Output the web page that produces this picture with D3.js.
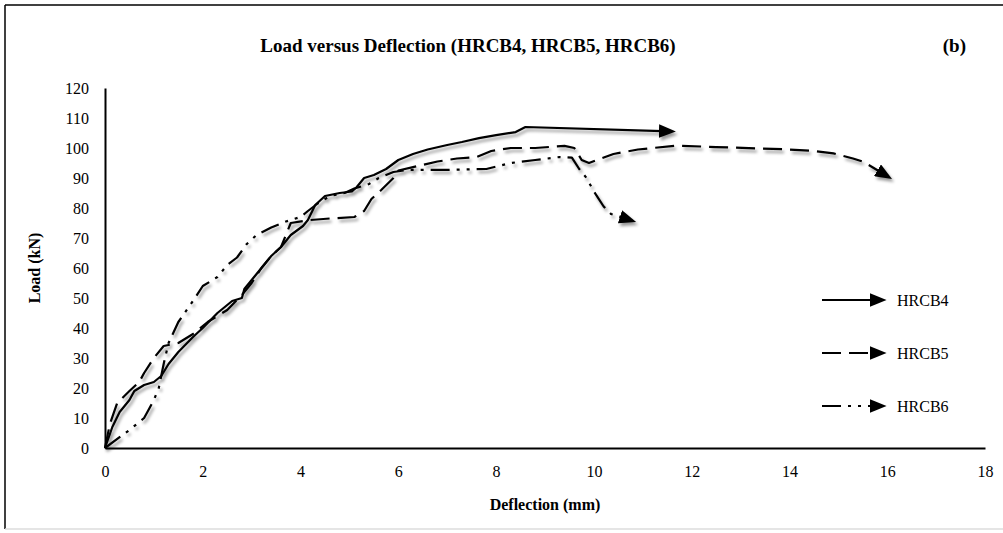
<!DOCTYPE html>
<html lang="en">
<head>
  <meta charset="UTF-8" />
  <title>Load versus Deflection</title>
  <script src="https://d3js.org/d3.v7.min.js"></script>
  <style>
    body { margin: 0; background: #fff; }
  </style>
</head>
<body>
  <svg id="chart" width="1003" height="533"></svg>

  <script>
    const FONT = "'Liberation Serif', 'Times New Roman', 'DejaVu Serif', serif";

    // Series names
    const seriesNames = ["HRCB4", "HRCB5", "HRCB6"];

    // Deflection (mm) / load (kN) pairs
    const hrcb4Deflection = [0, 0.15, 0.3, 0.5, 0.6, 0.8, 1.0, 1.15, 1.3, 1.5, 1.8, 2.0, 2.3, 2.6, 2.8, 2.85, 3.0, 3.2, 3.4, 3.6, 3.8, 4.05, 4.15, 4.3, 4.5, 4.8, 5.05, 5.15, 5.3, 5.5, 5.75, 6.0, 6.3, 6.6, 7.0, 7.3, 7.65, 8.0, 8.4, 8.6, 11.4];
    const hrcb4Load       = [0, 7, 12, 16, 19, 21, 22, 24, 28, 32, 37, 40, 45, 49, 50, 53, 56, 60, 64, 67, 71, 74, 76, 81, 84, 85, 85.5, 87, 90, 91, 93, 96, 98, 99.5, 101, 102, 103.3, 104.3, 105.3, 107, 105.6];

    const hrcb5Deflection = [0, 0.1, 0.25, 0.5, 0.7, 0.8, 1.0, 1.2, 1.5, 1.8, 2.1, 2.5, 2.8, 3.0, 3.2, 3.4, 3.6, 3.7, 3.8, 4.2, 4.6, 5.1, 5.3, 5.45, 5.65, 5.9, 6.0, 6.4, 6.8, 7.2, 7.6, 7.9, 8.3, 8.8, 9.4, 9.6, 9.75, 9.9, 10.4, 10.9, 11.7, 12.5, 13.9, 14.5, 14.9, 15.3, 15.5, 15.86];
    const hrcb5Load       = [0, 8, 15, 19, 22, 25, 30, 34, 35, 38, 42, 46, 51, 55, 60, 64, 67, 71, 75, 76, 76.5, 77, 79, 83, 86, 90, 92.5, 94, 95.5, 96.5, 97, 99, 100, 100, 100.7, 100, 96, 95, 98, 99.5, 100.8, 100.3, 99.6, 99, 98.2, 96.5, 95.5, 92];

    const hrcb6Deflection = [0, 0.5, 0.8, 1.0, 1.1, 1.2, 1.3, 1.5, 1.8, 2.0, 2.3, 2.5, 2.7, 2.9, 3.1, 3.4, 3.7, 4.0, 4.15, 4.35, 4.6, 4.9, 5.1, 5.4, 5.6, 5.9, 6.2, 7.0, 7.8, 8.3, 8.8, 9.3, 9.55, 9.7, 9.85, 10.0, 10.2, 10.35, 10.6];
    const hrcb6Load       = [0, 6, 10, 16, 20, 28, 35, 42, 49, 54, 57, 61, 63.5, 68, 71, 73.5, 75.5, 77, 79, 81.5, 84, 85, 86.5, 88, 90, 92, 92.7, 92.7, 93, 95, 96, 97, 96.8, 93, 90, 85.5, 80.5, 78, 76.7];

    const xTicks = [0, 2, 4, 6, 8, 10, 12, 14, 16, 18];
    const yTicks = [0, 10, 20, 30, 40, 50, 60, 70, 80, 90, 100, 110, 120];

    const series = [
      { name: seriesNames[0], x: hrcb4Deflection, y: hrcb4Load, dash: null },
      { name: seriesNames[1], x: hrcb5Deflection, y: hrcb5Load, dash: "19,8" },
      { name: seriesNames[2], x: hrcb6Deflection, y: hrcb6Load, dash: "19,7,3,7,3,7" }
    ];

    const svg = d3.select("#chart");

    // scales
    const xScale = d3.scaleLinear().domain([0, 18]).range([105, 985]);
    const yScale = d3.scaleLinear().domain([0, 120]).range([448, 88]);

    // frame around the figure
    svg.append("line").attr("x1", 5).attr("y1", 5).attr("x2", 1003).attr("y2", 5)
      .attr("stroke", "#000").attr("stroke-width", 1.5);
    svg.append("line").attr("x1", 5).attr("y1", 5).attr("x2", 5).attr("y2", 529)
      .attr("stroke", "#000").attr("stroke-width", 1.5);
    svg.append("line").attr("x1", 5).attr("y1", 529).attr("x2", 1003).attr("y2", 529)
      .attr("stroke", "#ddd").attr("stroke-width", 1.5);

    const defs = svg.append("defs");

    // soft shadow under the lines
    const shadow = defs.append("filter").attr("id", "shadow")
      .attr("x", "-10%").attr("y", "-10%").attr("width", "130%").attr("height", "130%");
    shadow.append("feDropShadow")
      .attr("dx", 2).attr("dy", 3).attr("stdDeviation", 1.8)
      .attr("flood-color", "#000").attr("flood-opacity", 0.4);

    // arrow head
    defs.append("marker")
      .attr("id", "arrow")
      .attr("viewBox", "0 0 10 10")
      .attr("refX", 2).attr("refY", 5)
      .attr("markerWidth", 7.7).attr("markerHeight", 6.2)
      .attr("markerUnits", "strokeWidth")
      .attr("orient", "auto")
      .attr("preserveAspectRatio", "none")
      .append("path")
      .attr("d", "M0,0 L10,5 L0,10 Z")
      .attr("fill", "#000");

    // axes (lines only, no tick marks)
    const xAxis = d3.axisBottom(xScale).tickValues(xTicks).tickSize(0).tickPadding(18);
    const gx = svg.append("g").attr("transform", "translate(0,448)").call(xAxis)
      .attr("font-family", FONT).attr("font-size", 16);
    gx.select(".domain").attr("stroke", "#000").attr("stroke-width", 2);

    const yAxis = d3.axisLeft(yScale).tickValues(yTicks).tickSize(0).tickPadding(16);
    const gy = svg.append("g").attr("transform", "translate(105,0)").call(yAxis)
      .attr("font-family", FONT).attr("font-size", 16);
    gy.select(".domain").attr("stroke", "#000").attr("stroke-width", 2);

    // curves
    const line = d3.line().x(d => xScale(d[0])).y(d => yScale(d[1]));
    const plot = svg.append("g").attr("filter", "url(#shadow)");
    series.forEach(s => {
      const pts = s.x.map((v, i) => [v, s.y[i]]);
      plot.append("path")
        .datum(pts)
        .attr("d", line)
        .attr("fill", "none")
        .attr("stroke", "#000")
        .attr("stroke-width", 2.2)
        .attr("stroke-linejoin", "round")
        .attr("stroke-dasharray", s.dash)
        .attr("marker-end", "url(#arrow)");
    });

    // legend
    const legend = svg.append("g").attr("font-family", FONT).attr("font-size", 16);
    series.forEach((s, i) => {
      const y = 300 + i * 53;
      legend.append("line")
        .attr("x1", 822).attr("x2", 873).attr("y1", y).attr("y2", y)
        .attr("stroke", "#000").attr("stroke-width", 2.2)
        .attr("stroke-dasharray", s.dash)
        .attr("marker-end", "url(#arrow)");
      legend.append("text")
        .attr("x", 897).attr("y", y + 5.5)
        .text(s.name);
    });

    // titles
    svg.append("text")
      .attr("font-family", FONT).attr("font-size", 19).attr("font-weight", "bold")
      .attr("x", 468).attr("y", 52)
      .attr("text-anchor", "middle")
      .text("Load versus Deflection (HRCB4, HRCB5, HRCB6)");
    svg.append("text")
      .attr("font-family", FONT).attr("font-size", 19).attr("font-weight", "bold")
      .attr("x", 966).attr("y", 52)
      .attr("text-anchor", "end")
      .text("(b)");

    svg.append("text")
      .attr("font-family", FONT).attr("font-size", 16).attr("font-weight", "bold")
      .attr("x", 545).attr("y", 510)
      .attr("text-anchor", "middle")
      .text("Deflection (mm)");
    svg.append("text")
      .attr("font-family", FONT).attr("font-size", 16).attr("font-weight", "bold")
      .attr("transform", "translate(40,268) rotate(-90)")
      .attr("text-anchor", "middle")
      .text("Load (kN)");
  </script>
</body>
</html>
